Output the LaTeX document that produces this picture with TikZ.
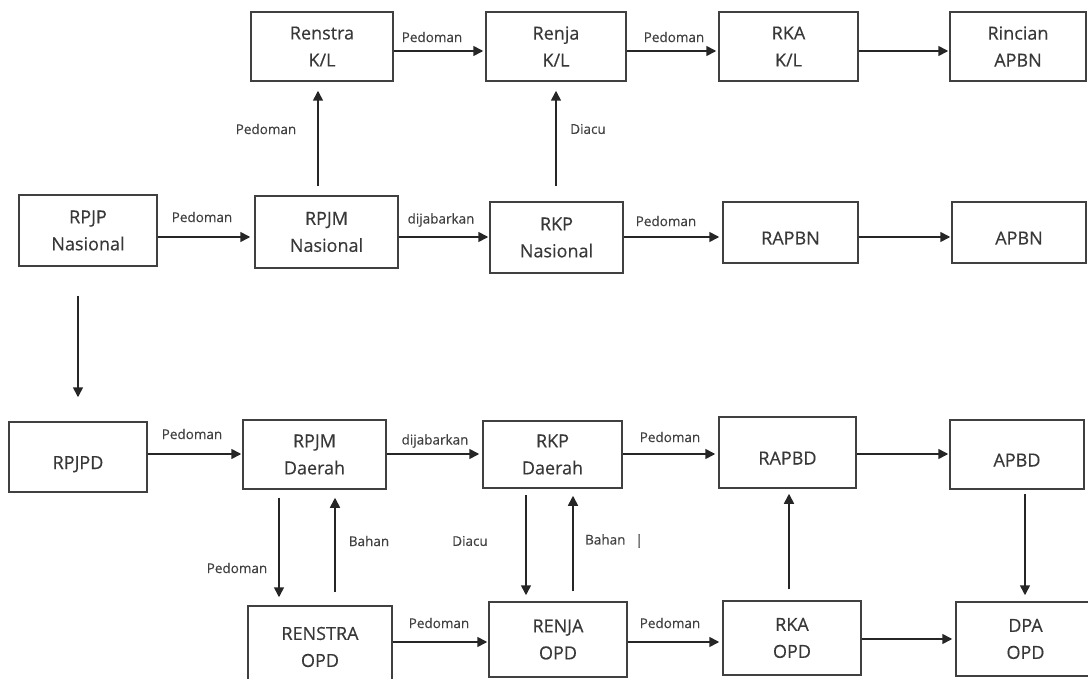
\documentclass[tikz,border=0pt]{standalone}
\usepackage{fontspec}
\setmainfont{Open Sans}[BoldFont={Open Sans},BoldFeatures={FakeBold=0.35}]
\usetikzlibrary{arrows.meta}
\newcommand\bnode[6]{\node[box,minimum width={#4-#2},minimum height={#5-#3}] (#1) at ({(#2+#4)/2},{(#3+#5)/2}) {#6};}
\begin{document}
\begin{tikzpicture}[x=1pt,y=-1pt,
  box/.style={draw=black!75,line width=1.5pt,fill=white,inner sep=0pt,align=center,
    font=\fontsize{18}{27}\selectfont\bfseries,text=black!78},
  one/.style={text height=24pt,text depth=0pt},
  arr/.style={draw=black!85,line width=1.6pt,-{Triangle[length=10pt,width=10pt]}},
  lbl/.style={font=\fontsize{13.5}{16}\selectfont\bfseries,text=black!75,inner sep=0pt}]
\useasboundingbox (0,0) rectangle (1088,679);
% top row
\bnode{Renstra}{251}{12}{393}{81}{Renstra\\K/L}
\bnode{RenjaKL}{486}{12}{626}{81}{Renja\\K/L}
\bnode{RKAKL}{719}{12}{858}{81}{RKA\\K/L}
\bnode{Rincian}{950}{12}{1086}{81}{Rincian\\APBN}
% national row
\bnode{RPJPN}{19}{195}{157}{266}{RPJP\\Nasional}
\bnode{RPJMN}{255}{196}{398}{268}{RPJM\\Nasional}
\bnode{RKPN}{490}{202}{623}{273}{RKP\\Nasional}
\node[box,one,minimum width=135,minimum height=61] (RAPBN) at (790.5,232.5) {RAPBN};
\node[box,one,minimum width=134,minimum height=61] (APBN) at (1019,232.5) {APBN};
% regional row
\node[box,one,minimum width=138,minimum height=70] (RPJPD) at (78,457) {RPJPD};
\bnode{RPJMD}{243}{420}{386}{489}{RPJM\\Daerah}
\bnode{RKPD}{483}{421}{622}{488}{RKP\\Daerah}
\node[box,one,minimum width=137,minimum height=71] (RAPBD) at (787.5,452.5) {RAPBD};
\node[box,one,minimum width=134,minimum height=69] (APBD) at (1017,454.5) {APBD};
% bottom row
\bnode{RENSTRA}{248}{606}{392}{688}{RENSTRA\\OPD}
\bnode{RENJA}{489}{602}{627}{677}{RENJA\\OPD}
\bnode{RKA}{723}{601}{861}{675}{RKA\\OPD}
\bnode{DPA}{956}{602}{1095}{676}{DPA\\OPD}
% helper coordinates
\coordinate (yA) at (0,51);
\coordinate (yB) at (0,237);
\coordinate (yC) at (0,454);
\coordinate (yD) at (0,642);
\coordinate (yE) at (0,639);
\coordinate (x1) at (318,0);
\coordinate (x2) at (556,0);
\coordinate (x3) at (78,0);
\coordinate (x4) at (279,0);
\coordinate (x5) at (335,0);
\coordinate (x6) at (526,0);
\coordinate (x7) at (573,0);
\coordinate (x8) at (789,0);
\coordinate (x9) at (1025,0);
% horizontal arrows
\draw[arr,shorten >=2pt] (Renstra.east |- yA) -- (RenjaKL.west |- yA);
\draw[arr,shorten >=2pt] (RenjaKL.east |- yA) -- (RKAKL.west |- yA);
\draw[arr,shorten >=1pt] (RKAKL.east |- yA) -- (Rincian.west |- yA);
\draw[arr,shorten >=4pt] (RPJPN.east |- yB) -- (RPJMN.west |- yB);
\draw[arr,shorten >=1pt] (RPJMN.east |- yB) -- (RKPN.west |- yB);
\draw[arr,shorten >=3pt] (RKPN.east |- yB) -- (RAPBN.west |- yB);
\draw[arr,shorten >=1pt] (RAPBN.east |- yB) -- (APBN.west |- yB);
\draw[arr,shorten >=1pt] (RPJPD.east |- yC) -- (RPJMD.west |- yC);
\draw[arr,shorten >=3pt] (RPJMD.east |- yC) -- (RKPD.west |- yC);
\draw[arr,shorten >=3pt] (RKPD.east |- yC) -- (RAPBD.west |- yC);
\draw[arr,shorten >=1pt] (RAPBD.east |- yC) -- (APBD.west |- yC);
\draw[arr,shorten >=1pt] (RENSTRA.east |- yD) -- (RENJA.west |- yD);
\draw[arr,shorten >=3pt] (RENJA.east |- yD) -- (RKA.west |- yD);
\draw[arr,shorten >=3pt] (RKA.east |- yE) -- (DPA.west |- yE);
% vertical arrows
\draw[arr,shorten <=9pt,shorten >=9pt] (RPJMN.north -| x1) -- (Renstra.south -| x1);
\draw[arr,shorten <=15pt,shorten >=9pt] (RKPN.north -| x2) -- (RenjaKL.south -| x2);
\draw[arr,shorten <=29pt,shorten >=24pt] (RPJPN.south -| x3) -- (RPJPD.north -| x3);
\draw[arr,shorten <=8pt,shorten >=8pt] (RPJMD.south -| x4) -- (RENSTRA.north -| x4);
\draw[arr,shorten <=13pt,shorten >=8pt] (RENSTRA.north -| x5) -- (RPJMD.south -| x5);
\draw[arr,shorten <=6pt,shorten >=6pt] (RKPD.south -| x6) -- (RENJA.north -| x6);
\draw[arr,shorten <=10pt,shorten >=7pt] (RENJA.north -| x7) -- (RKPD.south -| x7);
\draw[arr,shorten <=11pt,shorten >=5pt] (RKA.north -| x8) -- (RAPBD.south -| x8);
\draw[arr,shorten <=4pt,shorten >=6pt] (APBD.south -| x9) -- (DPA.north -| x9);
% labels
\node[lbl] (l1) at (432,37) {Pedoman};
\node[lbl] (l2) at (674,37) {Pedoman};
\node[lbl] (l3) at (266,129) {Pedoman};
\node[lbl] (l4) at (588,129) {Diacu};
\node[lbl] (l5) at (202,217) {Pedoman};
\node[lbl] (l6) at (441,220) {dijabarkan};
\node[lbl] (l7) at (666,221) {Pedoman};
\node[lbl] (l8) at (192,434) {Pedoman};
\node[lbl] (l9) at (435,441) {dijabarkan};
\node[lbl] (l10) at (670,437) {Pedoman};
\node[lbl] (l11) at (237,568) {Pedoman};
\node[lbl] (l12) at (369,541) {Bahan};
\node[lbl] (l13) at (470,541) {Diacu};
\node[lbl] (l14) at (614,541) {Bahan\hspace{10pt}|};
\node[lbl] (l15) at (439,623) {Pedoman};
\node[lbl] (l16) at (670,623) {Pedoman};
\end{tikzpicture}
\end{document}
